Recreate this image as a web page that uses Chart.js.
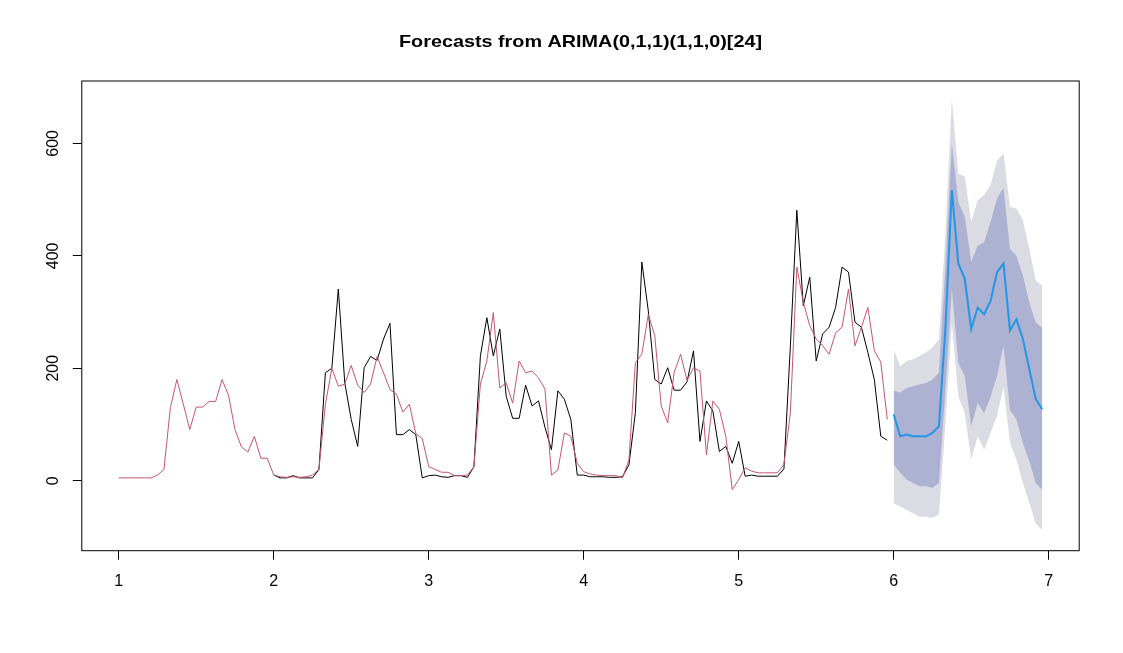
<!DOCTYPE html>
<html>
<head>
<meta charset="utf-8">
<script src="https://cdn.jsdelivr.net/npm/chart.js@4"></script>
<style>
  body { margin: 0; background: #fff; }
  #caixa { width: 1123px; height: 653px; }
</style>
</head>
<body>
<div id="caixa"><canvas id="graficoPrevisao"></canvas></div>
<script>
const titulo = "Forecasts from ARIMA(0,1,1)(1,1,0)[24]";
const frequencia = 24;
const inicioAjustados = 1;
const inicioObservados = 2; // na 1a temporada a serie fica escondida sob os ajustados
const inicioPrevisao = 6;

const ticksX = [1, 2, 3, 4, 5, 6, 7];
const ticksY = [0, 200, 400, 600];

// valores ajustados (linha vermelha)
const ajustados = [
  5, 5, 5, 5, 5, 5, 10, 20, 130, 180, 136, 91, 131, 131, 141, 141, 180, 152, 91, 60, 51, 79, 40, 40,
  10, 7, 6, 7, 6, 7, 10, 20, 136, 200, 168, 172, 205, 170, 157, 172, 221, 192, 162, 154, 122, 136, 84, 75,
  25, 20, 15, 15, 9, 9, 10, 25, 172, 213, 299, 165, 174, 138, 213, 192, 195, 183, 163, 10, 19, 85, 79, 31,
  16, 12, 10, 9, 9, 9, 5, 37, 210, 225, 296, 258, 133, 103, 192, 225, 178, 201, 195, 46, 142, 127, 79, -16,
  2, 23, 17, 14, 14, 14, 14, 29, 121, 380, 317, 276, 252, 240, 225, 263, 273, 341, 240, 273, 308, 231, 211, 109
];

// serie observada (linha preta), a partir de t = 2
const observados = [
  10, 5, 5, 9, 5, 5, 5, 20, 192, 200, 341, 174, 109, 61, 201, 221, 214, 252, 280, 82, 82, 91, 82, 5,
  9, 10, 7, 6, 9, 9, 6, 25, 222, 290, 222, 270, 150, 111, 111, 170, 133, 142, 95, 55, 160, 145, 109, 10,
  10, 7, 7, 7, 6, 6, 7, 28, 121, 389, 302, 180, 172, 201, 161, 161, 176, 231, 70, 142, 124, 52, 61, 31,
  70, 8, 10, 8, 8, 8, 8, 21, 240, 481, 311, 362, 213, 261, 273, 308, 380, 371, 282, 273, 228, 180, 79, 72
];

// previsao e intervalos
const previsao = [118, 79, 82, 79, 79, 79, 85, 97, 270, 517, 386, 359, 270, 308, 296, 320, 371, 386, 267, 287, 252, 198, 145, 127];
const sup80 = [160, 157, 165, 168, 171, 174, 180, 192, 380, 600, 496, 469, 389, 418, 424, 460, 502, 521, 412, 400, 365, 317, 281, 272];
const inf80 = [29, 14, 2, -4, -10, -10, -13, -4, 160, 341, 210, 186, 97, 138, 120, 150, 186, 240, 126, 109, 67, 34, -4, -16];
const sup95 = [234, 204, 213, 216, 222, 228, 237, 252, 440, 680, 546, 541, 460, 499, 508, 526, 570, 582, 487, 484, 463, 412, 356, 347];
const inf95 = [-40, -46, -52, -58, -64, -64, -66, -60, 100, 281, 150, 120, 38, 79, 55, 85, 115, 168, 67, 38, -4, -40, -76, -88];

function paraPontos(valores, inicio) {
  return valores.map((v, i) => ({ x: inicio + i / frequencia, y: v }));
}

const fonte = '"Liberation Sans", Arial, sans-serif';
Chart.defaults.font.family = fonte;
Chart.defaults.color = "#000";

const moldura = {
  id: "moldura",
  afterDatasetsDraw(chart) {
    const { ctx, chartArea } = chart;
    ctx.save();
    ctx.strokeStyle = "#000";
    ctx.lineWidth = 1;
    ctx.strokeRect(chartArea.left, chartArea.top, chartArea.right - chartArea.left, chartArea.bottom - chartArea.top);
    ctx.restore();
  },
  afterDraw(chart) {
    const { ctx, chartArea } = chart;
    ctx.save();
    ctx.font = "bold 17px " + fonte;
    ctx.fillStyle = "#000";
    ctx.textAlign = "center";
    ctx.textBaseline = "middle";
    const largura = ctx.measureText(titulo).width;
    ctx.translate((chartArea.left + chartArea.right) / 2, 42);
    ctx.scale(363 / largura, 1);
    ctx.fillText(titulo, 0, 0);
    ctx.restore();
  }
};

const graficoPrevisao = new Chart(document.querySelector("#graficoPrevisao"), {
  type: "line",
  data: {
    datasets: [
      { label: "95% sup", data: paraPontos(sup95, inicioPrevisao), borderWidth: 0, pointRadius: 0, fill: "+1", backgroundColor: "#dbdce3", order: 10 },
      { label: "95% inf", data: paraPontos(inf95, inicioPrevisao), borderWidth: 0, pointRadius: 0, fill: false, order: 10 },
      { label: "80% sup", data: paraPontos(sup80, inicioPrevisao), borderWidth: 0, pointRadius: 0, fill: "+1", backgroundColor: "#adb1d2", order: 9 },
      { label: "80% inf", data: paraPontos(inf80, inicioPrevisao), borderWidth: 0, pointRadius: 0, fill: false, order: 9 },
      { label: "Observado", data: paraPontos(observados, inicioObservados), borderColor: "#000", borderWidth: 1, pointRadius: 0, tension: 0, order: 3 },
      { label: "Ajustado", data: paraPontos(ajustados, inicioAjustados), borderColor: "#c4566f", borderWidth: 1, pointRadius: 0, tension: 0, order: 2 },
      { label: "Previsao", data: paraPontos(previsao, inicioPrevisao), borderColor: "#2297e6", borderWidth: 2, pointRadius: 0, tension: 0, order: 1 }
    ]
  },
  options: {
    responsive: true,
    maintainAspectRatio: false,
    animation: false,
    devicePixelRatio: 1,
    layout: { padding: { top: 81, right: 43.8, left: 0, bottom: 0 } },
    plugins: { legend: { display: false }, tooltip: { enabled: false } },
    scales: {
      x: {
        type: "linear",
        min: 0.7617,
        max: 7.1967,
        afterBuildTicks: (escala) => { escala.ticks = ticksX.map(v => ({ value: v })); },
        afterFit: (escala) => { escala.height = 102.3; },
        grid: { display: true, drawOnChartArea: false, drawTicks: true, tickLength: 9, color: "#000" },
        border: { display: false },
        ticks: { font: { size: 16 }, padding: 12, maxRotation: 0, color: "#000" }
      },
      y: {
        type: "linear",
        min: -124.5,
        max: 711,
        afterBuildTicks: (escala) => { escala.ticks = ticksY.map(v => ({ value: v })); },
        afterFit: (escala) => { escala.width = 81.8; },
        grid: { display: true, drawOnChartArea: false, drawTicks: true, tickLength: 9, color: "#000" },
        border: { display: false },
        ticks: { font: { size: 16 }, padding: 6, minRotation: 90, maxRotation: 90, crossAlign: "center", color: "#000" }
      }
    }
  },
  plugins: [moldura]
});
</script>
</body>
</html>
